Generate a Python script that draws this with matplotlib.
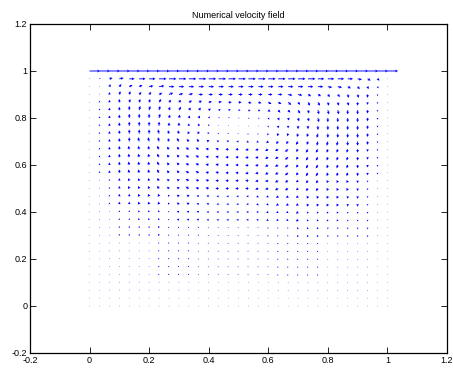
import numpy as np
import matplotlib
matplotlib.use('Agg')
import matplotlib.pyplot as plt

# ----------------------------------------------------------------
# Velocity field, 31 x 31 nodes on [0,1]^2.
# One string per grid row, top row (y = 1, moving lid) first.
# '0'..'9' = 0.0..0.9, 'X' = 1.0, 'a'..'i' = -0.1..-0.9
# ----------------------------------------------------------------
N = 31

LID = "X" * 31
ZERO = "0" * 31

U3 = "0000111222" + "33333333333" + "2221110000"
U2 = "0000011112" + "22222222222" + "2111100000"
U1 = "0000000111" + "11111111111" + "1110000000"
UA = "0000000aaa" + "aaaaaaaaaaa" + "aaa0000000"
UB = "00000aaaab" + "bbbbbbbbbbb" + "baaaa00000"
UC = "0000aaabbb" + "ccccccccccc" + "bbbaaa0000"

V5 = "023455554433211" + "0aabccddeeeeedb0"
V4 = "023444443322110" + "0aabbccddddddcb0"
V3 = "012333332221100" + "00aabbbccccccba0"
V2 = "011222221111000" + "000aaabbbbbbbba0"
V1 = "001111111110000" + "0000aaaaaaaaaa00"

u_rows = [
    LID,
    "0134566" + "7777777777777777" + "66654320",
    "0012334" + "5555555555555555" + "54432110",
    "0001122" + "3444444444444443" + "32211000",
    U3, U2, U1, ZERO,
    UA, UB,
    UC, UC, UC, UC, UC, UC,
    UB, UB, UB, UB,
    UA, UA, UA, UA, UA, UA, UA,
    ZERO, ZERO, ZERO, ZERO,
]

v_rows = [
    ZERO,
    "0111" + "0" * 23 + "abb0",
    "01332211" + "0" * 16 + "aabccb0",
    "01344332211" + "0" * 9 + "aabbccdddb0",
    V4, V5, V5, V5, V5, V5,
    V4, V4, V4, V4,
    V3, V3, V3, V3,
    V2, V2, V2, V2,
    V1, V1, V1, V1, V1, V1, V1,
    ZERO, ZERO,
]


def decode(ch):
    if ch == 'X':
        return 1.0
    if ch.isdigit():
        return int(ch) / 10.0
    return -(ord(ch) - 96) / 10.0


U = np.array([[decode(c) for c in row] for row in u_rows])[::-1]
V = np.array([[decode(c) for c in row] for row in v_rows])[::-1]

xg = np.linspace(0, 1, N)
yg = np.linspace(0, 1, N)
X, Y = np.meshgrid(xg, yg)

ticks = [-0.2, 0, 0.2, 0.4, 0.6, 0.8, 1, 1.2]
tick_labels = ['-0.2', '0', '0.2', '0.4', '0.6', '0.8', '1', '1.2']

# ----------------------------------------------------------------
# Plot
# ----------------------------------------------------------------
plt.rcParams['font.family'] = ['Liberation Sans', 'DejaVu Sans']
plt.rcParams['axes.unicode_minus'] = False

fig = plt.figure(figsize=(4.53, 3.68), dpi=100)
ax = fig.add_axes([0.0662, 0.0408, 0.9205, 0.894])

ax.quiver(X, Y, U, V, color='b', angles='xy', scale_units='xy',
          scale=28, width=0.0022, headwidth=3.2, headlength=3,
          headaxislength=2.7, minshaft=1, minlength=0.7)

ax.set_xlim(-0.2, 1.2)
ax.set_ylim(-0.2, 1.2)
ax.set_xticks(ticks)
ax.set_xticklabels(tick_labels)
ax.set_yticks(ticks)
ax.set_yticklabels(tick_labels)
ax.tick_params(direction='in', length=4, width=0.6, top=True, right=True,
               labelsize=6.5, pad=2)
for s in ax.spines.values():
    s.set_linewidth(0.9)
ax.set_title('Numerical velocity field', fontsize=6.5, pad=4)

fig.savefig('out.png', dpi=100)
